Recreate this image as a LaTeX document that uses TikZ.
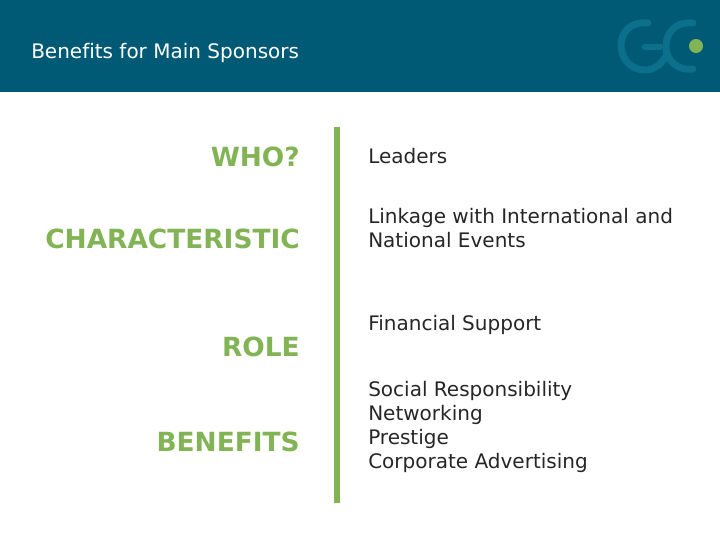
\documentclass[tikz,border=0pt]{standalone}
\usepackage{fontspec}
\setmainfont{DejaVu Sans}[Ligatures=NoCommon]
\usetikzlibrary{positioning}
\definecolor{headerblue}{HTML}{005A75}
\definecolor{logoblue}{HTML}{0C6F8C}
\definecolor{accentgreen}{HTML}{82B455}
\tikzset{
  topic/.style={text=accentgreen, font=\fontsize{19.8}{22}\selectfont\bfseries, anchor=base east, inner sep=0pt},
  detail/.style={text=black!85, font=\fontsize{15}{18}\selectfont, anchor=north west, align=left, inner sep=0pt},
  logoline/.style={draw=logoblue, line width=5.2pt, line cap=round}
}
\begin{document}
\begin{tikzpicture}[x=0.75pt, y=-0.75pt]
    \useasboundingbox (0,0) rectangle (720,540);
    \fill[headerblue] (0,0) rectangle (720,92);
    \node [anchor=base west, inner sep=0pt, text=white, font=\fontsize{15}{18}\selectfont] (title) at (31,58) {Benefits for Main Sponsors};
    % logo
    \draw[logoline] (648,23) .. controls (631,21) and (621,32) .. (621,45)
        .. controls (621,60) and (632,70) .. (645,70)
        .. controls (656,70) and (663,62) .. (667,54);
    \draw[logoline] (645,47) -- (660,47);
    \draw[logoline] (693,23) .. controls (677,21) and (666,32) .. (666,46)
        .. controls (666,60) and (677,71) .. (693,69);
    \fill[accentgreen] (696,46) circle [radius=7];
    % left column
    \node [topic] (who) at (300,166) {WHO?};
    \node [topic] (char) at (300,248) {CHARACTERISTIC};
    \node [topic] (role) at (300,356) {ROLE};
    \node [topic] (benefits) at (300,451) {BENEFITS};
    % divider
    \fill[accentgreen] (334,127) rectangle (340,503);
    % right column
    \node [detail] (leaders) at (368,148) {Leaders};
    \node [detail] (linkage) at (368,208) {Linkage with International and\\National Events};
    \node [detail] (support) at (368,315) {Financial Support};
    \node [detail] (social) at (368,381) {Social Responsibility\\Networking\\Prestige\\Corporate Advertising};
\end{tikzpicture}
\end{document}
